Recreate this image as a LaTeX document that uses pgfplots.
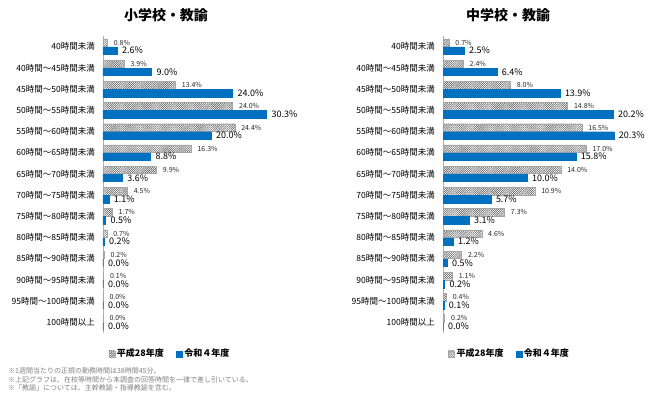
\documentclass[border=0pt]{standalone}
\usepackage{fontspec}
\setmainfont{Noto Sans CJK JP}
\usepackage{pgfplots}
\usepackage{pgfplotstable}
\pgfplotsset{compat=1.18}
\usetikzlibrary{patterns.meta}
\definecolor{rblue}{RGB}{0,112,192}

\pgfplotstableread{
y h28 r4
0 0.8 2.6
1 3.9 9.0
2 13.4 24.0
3 24.0 30.3
4 24.4 20.0
5 16.3 8.8
6 9.9 3.6
7 4.5 1.1
8 1.7 0.5
9 0.7 0.2
10 0.2 0.0
11 0.1 0.0
12 0.0 0.0
13 0.0 0.0
}\elem

\pgfplotstableread{
y h28 r4
0 0.7 2.5
1 2.4 6.4
2 8.0 13.9
3 14.8 20.2
4 16.5 20.3
5 17.0 15.8
6 14.0 10.0
7 10.9 5.7
8 7.3 3.1
9 4.6 1.2
10 2.2 0.5
11 1.1 0.2
12 0.4 0.1
13 0.2 0.0
}\jhs

\pgfplotsset{
 hourstyle/.style={
  scale only axis, height=297pt, anchor=south west,
  xbar, bar width=7.5pt, xmin=0, ymin=-0.5, ymax=13.5, y dir=reverse, enlargelimits=false,
  axis x line=none, axis y line=left,
  y axis line style={-, draw=gray!60, line width=0.8pt},
  ytick={0,...,13},
  yticklabels={40時間未満, 40時間～45時間未満, 45時間～50時間未満, 50時間～55時間未満, 55時間～60時間未満, 60時間～65時間未満, 65時間～70時間未満, 70時間～75時間未満, 75時間～80時間未満, 80時間～85時間未満, 85時間～90時間未満, 90時間～95時間未満, 95時間～100時間未満, 100時間以上},
  major tick length=0pt,
  yticklabel style={font=\fontsize{8.5}{9}\selectfont, inner sep=0pt, xshift=-8pt},
  /pgf/number format/assume math mode=true,
  legend columns=2,
  legend style={draw=none, fill=none, font=\bfseries\fontsize{9}{10}\selectfont, anchor=center,
    /tikz/every even column/.append style={column sep=10pt}},
  legend image code/.code={\draw[#1] (0pt,-3pt) rectangle (6pt,3pt);},
 },
 h28/.style={draw=gray!70, pattern={Lines[angle=45,distance=1.5pt,line width=0.55pt]}, pattern color=gray!70!black, bar shift=4pt,
   nodes near coords={\pgfmathprintnumber[fixed,fixed zerofill,precision=1]{\pgfplotspointmeta}\%},
   every node near coord/.append style={font=\fontsize{7}{7.5}\selectfont, anchor=west, xshift=3pt, text=black!85}},
 r4/.style={draw=rblue, fill=rblue, bar shift=-4pt,
   nodes near coords={\pgfmathprintnumber[fixed,fixed zerofill,precision=1]{\pgfplotspointmeta}\%},
   every node near coord/.append style={font=\fontsize{9}{10}\selectfont, anchor=west, xshift=1.5pt, text=black}},
}

\begin{document}
\begin{tikzpicture}
\path[use as bounding box] (0pt,0pt) rectangle (649pt,392pt);

\node[font=\bfseries\fontsize{14}{16}\selectfont] at (166pt,377pt) {小学校・教諭};
\node[font=\bfseries\fontsize{14}{16}\selectfont] at (508pt,377pt) {中学校・教諭};

\begin{axis}[hourstyle, at={(103pt,59pt)}, width=216pt, xmax=40,
  legend style={at={(0.31,-0.07)}}]
\addplot[h28] table[x=h28,y=y]{\elem};
\addplot[r4] table[x=r4,y=y]{\elem};
\addlegendentry{平成28年度}
\addlegendentry{令和４年度}
\end{axis}

\begin{axis}[hourstyle, at={(443pt,59pt)}, width=188.5pt, xmax=22.4,
  legend style={at={(0.353,-0.07)}}]
\addplot[h28] table[x=h28,y=y]{\jhs};
\addplot[r4] table[x=r4,y=y]{\jhs};
\addlegendentry{平成28年度}
\addlegendentry{令和４年度}
\end{axis}

\node[anchor=west, inner sep=0pt, text=gray, font=\fontsize{7}{8}\selectfont] at (8pt,21pt) {※1週間当たりの正規の勤務時間は38時間45分。};
\node[anchor=west, inner sep=0pt, text=gray, font=\fontsize{7}{8}\selectfont] at (8pt,12pt) {※上記グラフは、在校等時間から本調査の回答時間を一律で差し引いている。};
\node[anchor=west, inner sep=0pt, text=gray, font=\fontsize{7}{8}\selectfont] at (8pt,4pt) {※「教諭」については、主幹教諭・指導教諭を含む。};
\end{tikzpicture}
\end{document}
